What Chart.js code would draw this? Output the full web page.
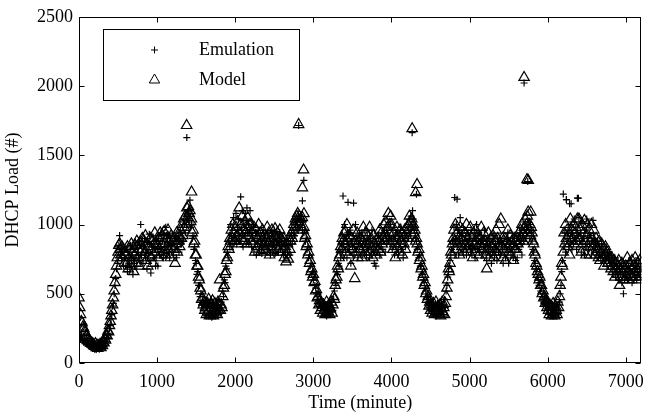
<!DOCTYPE html>
<html>
<head>
<meta charset="utf-8">
<title>DHCP load</title>
<script src="https://cdn.jsdelivr.net/npm/chart.js@4.4.0/dist/chart.umd.min.js"></script>
<style>
  html, body { margin: 0; padding: 0; background: #fff; }
  #wrap { width: 652px; height: 417px; }
</style>
</head>
<body>
<div id="wrap"><canvas id="graphique-dhcp" width="652" height="417"></canvas></div>
<script>
/** Sampling step of the two series, in minutes */
const sampleStep = 10;

/** Emulation load, one value every 10 minutes (20 values = 200 minutes per row) */
const emulation = [
  200, 180, 170, 195, 160, 175, 150, 165, 140, 160, 135, 150, 125, 145, 120, 140, 115, 130, 110, 125,
  100, 125, 95, 115, 105, 130, 100, 120, 110, 135, 115, 140, 130, 160, 150, 185, 175, 215, 205, 250,
  270, 320, 350, 410, 430, 500, 560, 610, 680, 720, 760, 850, 920, 780, 820, 740, 800, 700, 760, 820,
  700, 820, 660, 760, 800, 690, 850, 740, 780, 640, 820, 720, 870, 760, 700, 830, 780, 880, 740, 1000,
  780, 880, 720, 840, 900, 760, 820, 680, 870, 790, 930, 740, 650, 860, 800, 910, 760, 840, 700, 880,
  820, 700, 900, 780, 860, 940, 800, 880, 760, 920, 840, 980, 790, 870, 930, 820, 760, 900, 850, 800,
  860, 780, 900, 820, 880, 760, 840, 920, 800, 880, 940, 860, 900, 980, 880, 1000, 940, 1060, 980, 1040,
  1080, 1000, 1100, 980, 1000, 900, 920, 820, 840, 740, 720, 640, 660, 560, 560, 480, 500, 420, 450, 390,
  420, 360, 440, 340, 400, 450, 350, 410, 370, 460, 330, 400, 430, 360, 390, 340, 420, 380, 450, 350,
  400, 360, 440, 380, 520, 480, 600, 580, 700, 680, 800, 760, 880, 840, 1000, 900, 960, 860, 1050, 920,
  900, 1080, 860, 980, 1040, 920, 880, 1200, 960, 1100, 840, 1000, 920, 1080, 860, 1120, 940, 1000, 880, 1100,
  960, 840, 920, 1000, 800, 880, 940, 780, 900, 860, 960, 820, 880, 920, 790, 860, 940, 820, 900, 850,
  880, 800, 940, 840, 900, 780, 860, 920, 820, 880, 960, 790, 900, 850, 930, 800, 870, 940, 820, 880,
  840, 900, 780, 860, 820, 760, 880, 800, 850, 920, 780, 880, 940, 860, 900, 960, 920, 1000, 960, 1040,
  1000, 1060, 980, 1040, 1000, 1060, 960, 1020, 940, 960, 880, 900, 820, 840, 760, 780, 700, 720, 640, 660,
  600, 620, 560, 540, 500, 480, 460, 430, 440, 400, 420, 360, 400, 440, 350, 390, 420, 340, 380, 430,
  360, 410, 350, 400, 440, 380, 460, 520, 580, 560, 660, 640, 720, 700, 800, 760, 860, 820, 900, 860,
  1000, 820, 900, 760, 940, 860, 800, 960, 720, 880, 840, 920, 780, 860, 1000, 820, 900, 760, 860, 930,
  880, 780, 940, 840, 900, 800, 960, 860, 780, 920, 840, 880, 760, 900, 820, 960, 860, 800, 720, 900,
  700, 860, 800, 920, 840, 780, 900, 860, 940, 820, 880, 960, 800, 900, 860, 940, 900, 980, 880, 1000,
  900, 820, 960, 860, 780, 900, 840, 940, 880, 800, 920, 860, 980, 820, 900, 760, 880, 940, 840, 920,
  920, 980, 900, 1040, 960, 1060, 1000, 980, 1040, 960, 980, 900, 880, 820, 840, 760, 780, 700, 700, 640,
  640, 600, 580, 540, 520, 480, 470, 440, 430, 400, 420, 370, 400, 440, 350, 390, 420, 340, 380, 430,
  360, 410, 350, 400, 440, 370, 420, 350, 460, 400, 520, 560, 620, 660, 700, 740, 780, 820, 880, 860,
  980, 1195, 900, 1000, 860, 960, 780, 900, 1050, 840, 940, 880, 800, 960, 860, 920, 780, 880, 940, 840,
  900, 820, 960, 780, 880, 840, 940, 760, 900, 1000, 820, 880, 940, 800, 860, 920, 780, 880, 840, 960,
  800, 880, 740, 860, 820, 900, 780, 840, 720, 880, 800, 920, 760, 860, 820, 740, 900, 800, 860, 780,
  780, 880, 820, 720, 900, 840, 760, 860, 800, 940, 720, 840, 880, 780, 820, 900, 760, 860, 800, 740,
  840, 760, 900, 820, 880, 940, 860, 780, 920, 880, 960, 900, 1000, 940, 980, 1020, 960, 900, 1000, 920,
  880, 820, 800, 740, 720, 680, 660, 620, 600, 560, 580, 520, 540, 480, 500, 440, 470, 420, 440, 390,
  420, 360, 400, 440, 350, 390, 420, 340, 380, 430, 360, 400, 350, 420, 380, 440, 500, 560, 660, 740,
  1220, 860, 940, 800, 1180, 900, 960, 840, 1150, 880, 1000, 820, 940, 860, 1040, 900, 980, 820, 1190, 920,
  1050, 880, 940, 800, 1020, 860, 900, 780, 960, 840, 1040, 900, 820, 980, 860, 920, 780, 880, 1030, 840,
  900, 820, 860, 780, 880, 760, 840, 800, 740, 860, 780, 820, 720, 800, 760, 840, 700, 780, 740, 800,
  760, 700, 740, 640, 720, 680, 760, 620, 700, 660, 740, 600, 680, 640, 720, 580, 660, 500, 620, 680,
  640, 700, 600, 680, 740, 620, 660, 720, 580, 650, 700, 620, 680, 740, 600, 660, 720, 640, 680, 620
];

/** Model load, same sampling */
const model = [
  470, 400, 350, 300, 290, 260, 250, 230, 220, 200, 195, 180, 170, 160, 155, 150, 145, 140, 135, 130,
  120, 140, 110, 130, 105, 125, 115, 135, 110, 140, 125, 150, 145, 175, 165, 200, 195, 230, 225, 270,
  300, 340, 380, 420, 470, 520, 580, 640, 700, 760, 800, 850, 860, 820, 780, 840, 760, 820, 720, 800,
  780, 720, 840, 680, 760, 820, 700, 860, 740, 800, 660, 780, 850, 720, 880, 760, 820, 700, 870, 800,
  820, 900, 760, 880, 800, 920, 740, 860, 700, 840, 780, 900, 820, 760, 880, 720, 860, 940, 800, 860,
  850, 760, 900, 820, 940, 780, 860, 920, 800, 950, 860, 780, 900, 840, 960, 820, 880, 760, 920, 840,
  880, 820, 900, 720, 860, 940, 800, 880, 920, 840, 960, 900, 1000, 920, 1040, 980, 1060, 1000, 1120, 1050,
  1130, 1080, 1100, 1020, 1040, 940, 960, 860, 880, 780, 780, 700, 700, 620, 600, 540, 520, 460, 470, 420,
  440, 380, 400, 350, 430, 370, 460, 340, 400, 420, 360, 450, 340, 390, 430, 370, 410, 350, 440, 380,
  600, 380, 420, 400, 480, 540, 560, 640, 660, 740, 760, 840, 820, 900, 880, 960, 900, 1000, 940, 880,
  880, 980, 920, 1020, 860, 1120, 940, 1000, 900, 1060, 960, 880, 1020, 940, 980, 860, 1050, 920, 1000, 960,
  1000, 880, 940, 860, 980, 800, 920, 960, 840, 900, 1000, 860, 940, 800, 880, 960, 840, 920, 870, 820,
  900, 980, 860, 940, 780, 900, 840, 960, 880, 800, 920, 970, 860, 900, 940, 820, 880, 960, 800, 900,
  880, 820, 900, 760, 840, 730, 800, 860, 750, 900, 820, 880, 940, 900, 960, 1000, 980, 1040, 1020, 1060,
  1080, 1020, 1060, 1000, 1040, 980, 1050, 960, 980, 900, 920, 840, 860, 780, 800, 720, 740, 660, 680, 620,
  640, 580, 590, 520, 530, 470, 480, 420, 450, 380, 430, 400, 360, 420, 380, 350, 400, 440, 360, 390,
  420, 350, 390, 440, 360, 420, 480, 460, 560, 600, 620, 700, 680, 760, 780, 840, 820, 900, 880, 940,
  860, 950, 800, 1000, 880, 780, 920, 840, 700, 900, 820, 960, 860, 610, 880, 800, 940, 760, 880, 820,
  820, 900, 760, 880, 980, 840, 800, 940, 860, 780, 920, 860, 980, 800, 900, 840, 760, 920, 860, 800,
  840, 780, 900, 820, 880, 960, 800, 940, 860, 900, 1000, 880, 940, 1020, 900, 980, 1080, 940, 1000, 1060,
  1000, 880, 820, 940, 860, 760, 900, 980, 840, 920, 800, 960, 880, 940, 780, 900, 860, 960, 820, 940,
  980, 900, 1000, 1060, 960, 1020, 1040, 980, 1000, 940, 960, 880, 900, 860, 800, 820, 740, 760, 680, 700,
  620, 640, 560, 580, 500, 520, 460, 480, 410, 440, 380, 420, 360, 400, 430, 350, 390, 440, 360, 400,
  380, 350, 420, 340, 390, 440, 360, 400, 350, 430, 480, 540, 600, 680, 660, 720, 800, 780, 860, 900,
  960, 880, 1000, 820, 940, 860, 900, 780, 980, 900, 840, 960, 880, 800, 940, 860, 1000, 820, 900, 840,
  860, 980, 820, 900, 760, 940, 850, 800, 960, 880, 840, 920, 780, 900, 860, 980, 820, 880, 940, 860,
  880, 780, 680, 820, 940, 760, 860, 900, 800, 840, 920, 760, 880, 820, 960, 800, 900, 840, 1000, 860,
  1040, 840, 900, 760, 820, 900, 740, 860, 880, 960, 800, 860, 920, 780, 880, 840, 740, 900, 820, 880,
  820, 900, 860, 940, 880, 960, 900, 1000, 940, 880, 980, 1040, 960, 1000, 1060, 1090, 960, 1000, 920, 980,
  940, 880, 860, 800, 780, 720, 700, 660, 640, 600, 620, 560, 560, 500, 520, 470, 480, 430, 450, 400,
  440, 380, 350, 410, 370, 340, 400, 430, 360, 340, 410, 380, 350, 440, 400, 480, 560, 620, 720, 700,
  800, 940, 860, 1000, 900, 960, 840, 920, 780, 1040, 880, 960, 900, 1000, 860, 940, 980, 880, 1040, 900,
  1040, 900, 960, 800, 1000, 860, 940, 1030, 880, 780, 920, 1000, 840, 960, 880, 780, 1000, 900, 840, 960,
  860, 780, 900, 840, 820, 760, 880, 740, 800, 860, 760, 820, 700, 780, 840, 740, 800, 720, 780, 760,
  740, 680, 760, 700, 660, 740, 620, 720, 680, 700, 640, 740, 560, 680, 620, 720, 660, 700, 600, 680,
  700, 620, 760, 660, 600, 720, 640, 680, 740, 620, 700, 660, 760, 620, 680, 720, 600, 680, 740, 640
];

/** Isolated peaks, off the regular sampling */
const emulationSpikeTimes = [1380, 1420, 2812, 2860, 2878, 3380, 3444, 3515, 4265, 4270, 4320, 4840, 5698, 5745, 6240, 6300, 6393];
const emulationSpikeLoads = [1628, 1176, 1715, 1171, 1319, 1206, 1160, 1155, 1663, 1100, 1218, 1183, 2022, 1310, 1180, 1150, 1190];
const modelSpikeTimes = [1378, 1441, 2812, 2860, 2875, 2880, 4265, 4310, 4328, 5698, 5735, 5752, 5783];
const modelSpikeLoads = [1715, 1235, 1722, 1265, 1394, 1078, 1692, 1230, 1289, 2062, 1324, 1318, 1090];

/** Axes */
const xTicks = [0, 1000, 2000, 3000, 4000, 5000, 6000, 7000];
const yTicks = [0, 500, 1000, 1500, 2000, 2500];

const serif = "'Liberation Serif', 'Times New Roman', serif";

const toPoints = (loads, times) => loads.map((v, i) => ({ x: times ? times[i] : i * sampleStep, y: v }));
const emulationPoints = toPoints(emulation).concat(toPoints(emulationSpikeLoads, emulationSpikeTimes));
const modelPoints = toPoints(model).concat(toPoints(modelSpikeLoads, modelSpikeTimes));

/** Box round the plot, inward ticks on four sides, legend inside the plot */
const cadre = {
  id: 'cadre',
  afterDraw(chart) {
    const { ctx, chartArea: a, scales } = chart;
    const L = Math.round(a.left) + 0.5, R = Math.round(a.right) - 0.5;
    const T = Math.round(a.top) + 0.5, B = Math.round(a.bottom) - 0.5;
    ctx.save();
    ctx.strokeStyle = '#000';
    ctx.lineWidth = 1;
    ctx.beginPath();
    xTicks.forEach(v => {
      const px = Math.round(scales.x.getPixelForValue(v)) + 0.5;
      ctx.moveTo(px, B); ctx.lineTo(px, B - 5);
      ctx.moveTo(px, T); ctx.lineTo(px, T + 5);
    });
    yTicks.forEach(v => {
      const py = Math.round(scales.y.getPixelForValue(v)) + 0.5;
      ctx.moveTo(L, py); ctx.lineTo(L + 5, py);
      ctx.moveTo(R, py); ctx.lineTo(R - 5, py);
    });
    ctx.stroke();
    ctx.strokeRect(L, T, R - L, B - T);

    /** legend */
    ctx.fillStyle = '#fff';
    ctx.fillRect(103.5, 29.5, 196, 71);
    ctx.strokeRect(103.5, 29.5, 196, 71);
    ctx.font = '18px ' + serif;
    ctx.textBaseline = 'middle';
    ctx.textAlign = 'left';
    chart.data.datasets.forEach((ds, i) => {
      const y = 50 + i * 30;
      ctx.fillStyle = 'rgba(0,0,0,0)';
      ctx.strokeStyle = '#000';
      ctx.lineWidth = 1;
      Chart.helpers.drawPoint(ctx, { pointStyle: ds.pointStyle, radius: ds.pointRadius, rotation: 0, borderWidth: 1 }, 154.5, y);
      ctx.fillStyle = '#000';
      ctx.fillText(ds.label, 199, y);
    });
    ctx.restore();
  }
};

const ctx = document.getElementById('graphique-dhcp').getContext('2d');
new Chart(ctx, {
  type: 'scatter',
  data: {
    datasets: [
      { label: 'Emulation', data: emulationPoints, pointStyle: 'cross', pointRadius: 3.5,
        pointBorderColor: '#000', pointBackgroundColor: 'rgba(0,0,0,0)', pointBorderWidth: 1.2 },
      { label: 'Model', data: modelPoints, pointStyle: 'triangle', pointRadius: 6,
        pointBorderColor: '#000', pointBackgroundColor: 'rgba(0,0,0,0)', pointBorderWidth: 1.2 }
    ]
  },
  options: {
    responsive: false,
    animation: false,
    devicePixelRatio: 1,
    layout: { padding: { top: 8, right: 4, left: 0, bottom: 0 } },
    plugins: { legend: { display: false }, tooltip: { enabled: false } },
    scales: {
      x: {
        type: 'linear', min: 0, max: 7200,
        afterBuildTicks: s => { s.ticks = xTicks.map(v => ({ value: v })); },
        afterFit: s => { s.height = 54; },
        grid: { display: false, drawTicks: false },
        border: { display: false },
        ticks: { color: '#000', font: { family: serif, size: 18 }, padding: 8, maxRotation: 0, autoSkip: false,
          callback: v => String(v) },
        title: { display: true, text: 'Time (minute)', color: '#000', font: { family: serif, size: 18 }, padding: { top: 0, bottom: 3 } }
      },
      y: {
        min: 0, max: 2500,
        afterBuildTicks: s => { s.ticks = yTicks.map(v => ({ value: v })); },
        afterFit: s => { s.width = 79; },
        grid: { display: false, drawTicks: false },
        border: { display: false },
        ticks: { color: '#000', font: { family: serif, size: 18 }, padding: 6, autoSkip: false,
          callback: v => String(v) },
        title: { display: true, text: 'DHCP Load (#)', color: '#000', font: { family: serif, size: 18 }, padding: { top: 2, bottom: 0 } }
      }
    }
  },
  plugins: [cadre]
});
</script>
</body>
</html>
